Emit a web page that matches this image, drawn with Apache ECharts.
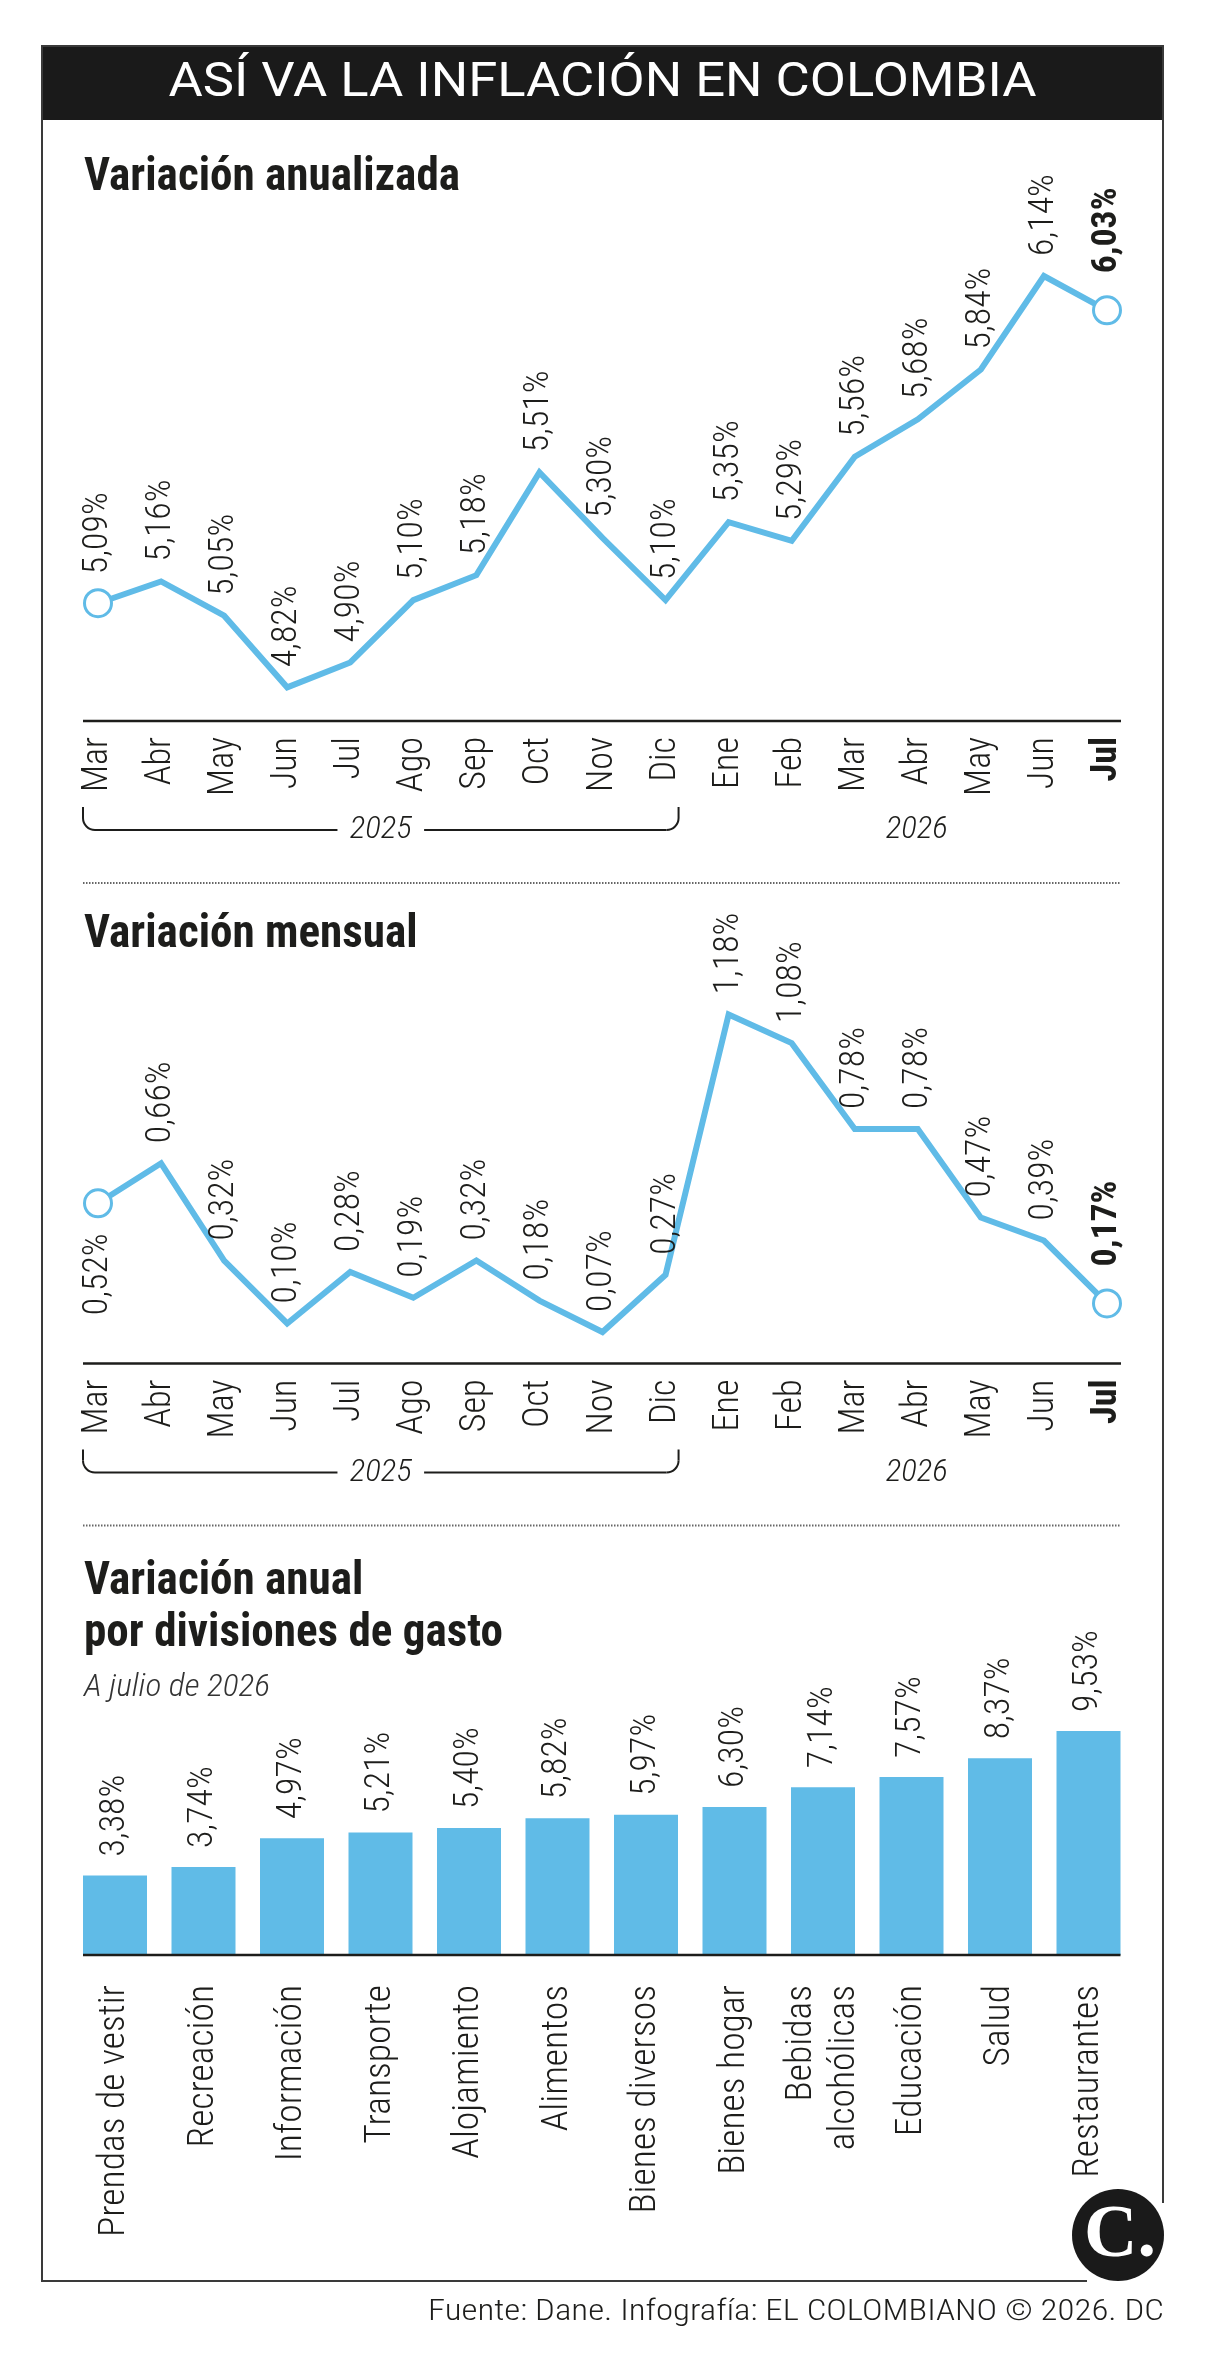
<!DOCTYPE html>
<html lang="es">
<head>
<meta charset="utf-8">
<title>Así va la inflación en Colombia</title>
<script src="https://cdn.jsdelivr.net/npm/echarts@6/dist/echarts.min.js"></script>
<style>
  html, body { margin: 0; padding: 0; background: #fff; }
  #chart { width: 1209px; height: 2376px; }
</style>
</head>
<body>
<div id="chart"></div>
<script>
// datos
const meses = ['Mar', 'Abr', 'May', 'Jun', 'Jul', 'Ago', 'Sep', 'Oct', 'Nov', 'Dic', 'Ene', 'Feb', 'Mar', 'Abr', 'May', 'Jun', 'Jul']
const anualizada = [5.09, 5.16, 5.05, 4.82, 4.90, 5.10, 5.18, 5.51, 5.30, 5.10, 5.35, 5.29, 5.56, 5.68, 5.84, 6.14, 6.03]
const mensual = [0.52, 0.66, 0.32, 0.10, 0.28, 0.19, 0.32, 0.18, 0.07, 0.27, 1.18, 1.08, 0.78, 0.78, 0.47, 0.39, 0.17]
const anios = ['2025', '2026']
const anioDesde = [0, 10]
const anioHasta = [9, 16]
const divisiones = ['Prendas de vestir', 'Recreación', 'Información', 'Transporte', 'Alojamiento', 'Alimentos',
  'Bienes diversos', 'Bienes hogar', 'Bebidas\nalcohólicas', 'Educación', 'Salud', 'Restaurantes']
const variacionDivisiones = [3.38, 3.74, 4.97, 5.21, 5.40, 5.82, 5.97, 6.30, 7.14, 7.57, 8.37, 9.53]

const AZUL = '#60BBE7'
const NEGRO = '#1d1d1b'
const LIGERA = 300
const ult = meses.length - 1
const pct = v => v.toFixed(2).replace('.', ',') + '%'

// medir textos para elegir la fuente angosta disponible y ajustar tamaños
const ctx = document.createElement('canvas').getContext('2d')
function ancho (texto, familia, estilo) {
  ctx.font = (estilo || '') + ' 100px ' + familia
  return ctx.measureText(texto).width / 100
}
const prueba = 'abcdefghijklm MWQ 0123456789%'
const existe = f => ancho(prueba, '"' + f + '", monospace') !== ancho(prueba, 'monospace')
const fam = lista => '"' + (lista.find(existe) || 'DejaVu Sans') + '", sans-serif'
const ANGOSTA = fam(['Roboto Condensed', 'Liberation Sans Narrow', 'DejaVu Sans Condensed'])
const tam = (texto, largo, min, max) => Math.max(min, Math.min(max, largo / ancho(texto, ANGOSTA, LIGERA)))
const fsMes = tam('Mar', 55, 31, 38)
const fsDato = tam('5,09%', 82, 31, 37)
const fsCat = tam('Prendas de vestir', 252, 31, 38)
const escala = (texto, largo, familia, estilo, fs) => largo / (ancho(texto, familia, estilo) * fs)

const myChart = echarts.init(document.getElementById('chart'))

function serieLinea (idx, valores, primeraAbajo) {
  const data = valores.map((v, i) => {
    if (i === 0 && primeraAbajo) return { value: v, label: { position: 'bottom', align: 'right', distance: 15 } }
    if (i === 0 || i === ult) return { value: v, label: { distance: i === ult ? 22 : 14 } }
    return v
  })
  return {
    type: 'line',
    xAxisIndex: idx,
    yAxisIndex: idx,
    data: data,
    animation: false,
    lineStyle: { color: AZUL, width: 6, join: 'miter' },
    symbol: 'circle',
    symbolSize: (v, p) => (p.dataIndex === 0 || p.dataIndex === ult) ? 27 : 0,
    itemStyle: { color: '#fff', borderColor: AZUL, borderWidth: 3 },
    emphasis: { disabled: true },
    label: {
      show: true,
      position: 'top',
      distance: 20,
      rotate: 90,
      align: 'left',
      verticalAlign: 'middle',
      fontFamily: ANGOSTA,
      fontWeight: LIGERA,
      fontSize: fsDato,
      color: NEGRO,
      formatter: p => p.dataIndex === ult ? '{b|' + pct(p.value) + '}' : pct(p.value),
      rich: { b: { fontFamily: ANGOSTA, fontSize: fsDato, fontWeight: 'bold', color: NEGRO } }
    }
  }
}

function ejeMeses (idx) {
  return {
    type: 'category',
    gridIndex: idx,
    data: meses,
    boundaryGap: false,
    axisLine: { show: false },
    axisTick: { show: false },
    axisLabel: {
      interval: 0,
      rotate: 90,
      margin: 16,
      fontFamily: ANGOSTA,
      fontWeight: LIGERA,
      fontSize: fsMes,
      color: NEGRO,
      formatter: (v, i) => i === ult ? '{b|' + v + '}' : v,
      rich: { b: { fontFamily: ANGOSTA, fontSize: fsMes, fontWeight: 'bold', color: NEGRO } }
    }
  }
}

myChart.setOption({
  animation: false,
  grid: [
    { left: 98, width: 1009, top: 195, height: 526 },
    { left: 98, width: 1009, top: 923, height: 440.5 },
    { left: 70.75, width: 1062, top: 1720, height: 235 }
  ],
  xAxis: [
    ejeMeses(0),
    ejeMeses(1),
    {
      type: 'category',
      gridIndex: 2,
      data: divisiones,
      axisLine: { show: false },
      axisTick: { show: false },
      axisLabel: {
        interval: 0,
        rotate: 90,
        margin: 30,
        fontFamily: ANGOSTA,
        fontWeight: LIGERA,
        fontSize: fsCat,
        lineHeight: 43,
        color: NEGRO
      }
    }
  ],
  yAxis: [
    { gridIndex: 0, type: 'value', min: 4.712, max: 6.4, show: false },
    { gridIndex: 1, type: 'value', min: -0.04, max: 1.5, show: false },
    { gridIndex: 2, type: 'value', min: 0, max: 10, show: false }
  ],
  series: [
    serieLinea(0, anualizada, false),
    serieLinea(1, mensual, true),
    {
      type: 'bar',
      xAxisIndex: 2,
      yAxisIndex: 2,
      data: variacionDivisiones,
      barWidth: 64,
      itemStyle: { color: AZUL },
      emphasis: { disabled: true },
      label: {
        show: true,
        position: 'top',
        distance: 19,
        rotate: 90,
        align: 'left',
        verticalAlign: 'middle',
        fontFamily: ANGOSTA,
        fontWeight: LIGERA,
        fontSize: fsDato,
        color: NEGRO,
        formatter: p => pct(p.value)
      }
    }
  ]
})

// adornos: marco, titulos, ejes, llaves de año
const px = (g, i, v) => myChart.convertToPixel({ gridIndex: g }, [i, v])
const graficos = []

const cabecera = 'ASÍ VA LA INFLACIÓN EN COLOMBIA'
graficos.push({ type: 'rect', shape: { x: 42, y: 46, width: 1121, height: 74 }, style: { fill: '#1a1a1a' } })
graficos.push({ type: 'polyline', shape: { points: [[1163, 2203], [1163, 46], [42, 46], [42, 2281], [1087, 2281]] },
  style: { stroke: '#3a3a3a', lineWidth: 2, fill: null } })
graficos.push({ type: 'text', x: 602.5, y: 84, scaleX: escala(cabecera, 868, 'Roboto', '', 49),
  style: { text: cabecera, x: 0, y: 0, align: 'center', verticalAlign: 'middle', fontFamily: 'Roboto', fontSize: 49, fill: '#fff' } })

const escTitulo = escala('Variación anualizada', 376, ANGOSTA, 'bold', 46)
const titulo = (t, y) => ({ type: 'text', x: 84, y: y, scaleX: escTitulo, style: { text: t, x: 0, y: 0,
  verticalAlign: 'middle', fontFamily: ANGOSTA, fontWeight: 'bold', fontSize: 46, fill: NEGRO } })
graficos.push(titulo('Variación anualizada', 178))
graficos.push(titulo('Variación mensual', 935))
graficos.push(titulo('Variación anual', 1582))
graficos.push(titulo('por divisiones de gasto', 1634))
const sub = 'A julio de 2026'
graficos.push({ type: 'text', x: 84, y: 1688, scaleX: escala(sub, 186, ANGOSTA, 'italic ' + LIGERA, 31),
  style: { text: sub, x: 0, y: 0, verticalAlign: 'middle', fontFamily: ANGOSTA, fontStyle: 'italic', fontWeight: LIGERA,
    fontSize: 31, fill: '#333' } })

const trazo = { stroke: NEGRO, lineWidth: 2, fill: null }
const escAnio = escala('2025', 62, ANGOSTA, 'italic ' + LIGERA, 32)
;[0, 1].forEach(g => {
  const base = px(g, 0, g === 0 ? 4.712 : -0.04)[1]
  const x0 = px(g, 0, 0)[0]
  const xN = px(g, ult, 0)[0]
  graficos.push({ type: 'line', shape: { x1: x0 - 15, y1: base, x2: xN + 14, y2: base },
    style: { stroke: NEGRO, lineWidth: 2.5 } })
  graficos.push({ type: 'line', shape: { x1: x0 - 15, y1: base + 162, x2: xN + 14, y2: base + 162 },
    style: { stroke: '#666', lineWidth: 2, lineDash: [1.5, 1.5] } })
  const yTop = base + 86
  const yLin = base + 109
  const r = 12
  anios.forEach((a, k) => {
    const xa = px(g, anioDesde[k], 0)[0] - 15
    const xb = px(g, anioHasta[k], 0)[0] + 13
    if (k === 0) {
      graficos.push({ type: 'line', shape: { x1: xa, y1: yTop, x2: xa, y2: yLin - r }, style: trazo })
      graficos.push({ type: 'arc', shape: { cx: xa + r, cy: yLin - r, r: r, startAngle: Math.PI / 2, endAngle: Math.PI, clockwise: true }, style: trazo })
      graficos.push({ type: 'line', shape: { x1: xa + r, y1: yLin, x2: xb - r, y2: yLin }, style: trazo })
      graficos.push({ type: 'arc', shape: { cx: xb - r, cy: yLin - r, r: r, startAngle: 0, endAngle: Math.PI / 2, clockwise: true }, style: trazo })
      graficos.push({ type: 'line', shape: { x1: xb, y1: yLin - r, x2: xb, y2: yTop }, style: trazo })
    }
    graficos.push({ type: 'text', z: 10, x: (xa + xb) / 2, y: yLin, scaleX: escAnio, style: { text: a, x: 0, y: 0,
      align: 'center', verticalAlign: 'middle', fontFamily: ANGOSTA, fontStyle: 'italic', fontWeight: LIGERA, fontSize: 32,
      fill: NEGRO, backgroundColor: '#fff', padding: [0, 12] } })
  })
})

const baseBarras = px(2, 0, 0)[1]
graficos.push({ type: 'line', z: 10, shape: { x1: px(2, 0, 0)[0] - 32, y1: baseBarras, x2: px(2, divisiones.length - 1, 0)[0] + 32, y2: baseBarras },
  style: { stroke: NEGRO, lineWidth: 2.5 } })

graficos.push({ type: 'circle', shape: { cx: 1118, cy: 2235, r: 46 }, style: { fill: '#1a1a1a' } })
graficos.push({ type: 'text', style: { text: 'C.', x: 1120, y: 2237, align: 'center', verticalAlign: 'middle',
  fontFamily: '"Liberation Serif", serif', fontWeight: 'bold', fontSize: 74, fill: '#fff' } })
const fuente = 'Fuente: Dane. Infografía: EL COLOMBIANO © 2026. DC'
graficos.push({ type: 'text', x: 1164, y: 2312, scaleX: escala(fuente, 736, ANGOSTA, LIGERA, 30), style: { text: fuente, x: 0, y: 0,
  align: 'right', verticalAlign: 'middle', fontFamily: ANGOSTA, fontWeight: LIGERA, fontSize: 30, fill: NEGRO } })

myChart.setOption({ graphic: graficos })
</script>
</body>
</html>
